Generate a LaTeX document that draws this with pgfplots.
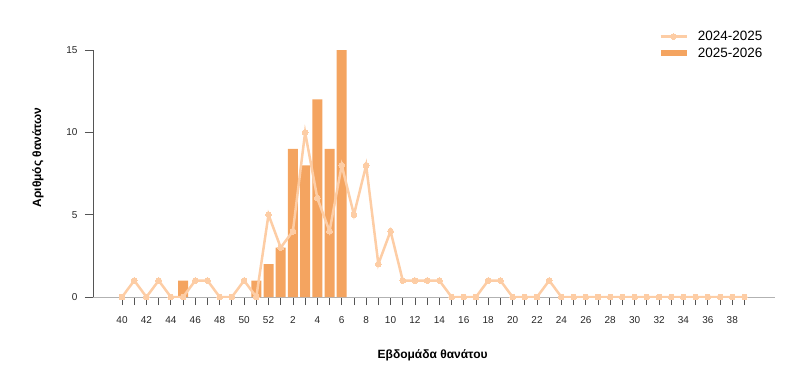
\documentclass[border=0pt]{standalone}
\usepackage{fontspec}
\setmainfont{Liberation Sans}
\usepackage{pgfplots}
\pgfplotsset{compat=1.18}
\definecolor{linec}{HTML}{FDCDA5}
\definecolor{barc}{HTML}{F4A460}
\definecolor{axc}{HTML}{555555}
\pgfplotsset{
  barleg/.style={legend image code/.code={\fill[barc] (0pt,-3pt) rectangle (26pt,3pt);}},
  lineleg/.style={legend image code/.code={\draw[mark repeat=2, mark phase=2, ##1] plot coordinates {(0pt,0pt) (13pt,0pt) (26pt,0pt)};}},
}
\begin{document}
\begin{tikzpicture}
\path[use as bounding box] (0,0) rectangle (800pt,389pt);
\begin{axis}[
  at={(93pt,92pt)}, anchor=south west,
  scale only axis, width=682pt, height=247pt,
  xmin=-2.38, xmax=53.5, ymin=0, ymax=15,
  axis x line=bottom, axis y line=left,
  x axis line style={-, draw=black!30, line width=0.8pt},
  y axis line style={-, draw=axc, line width=0.8pt},
  tick align=outside,
  xtick={0,2,...,50},
  xticklabels={40,42,44,46,48,50,52,2,4,6,8,10,12,14,16,18,20,22,24,26,28,30,32,34,36,38},
  minor xtick={1,3,...,51},
  major tick length=8pt, minor tick length=8pt,
  every tick/.style={draw=axc, line width=0.8pt},
  ytick={0,5,10,15},
  tick label style={font=\fontsize{10}{12}\selectfont, text=black!85},
  /pgf/number format/assume math mode=true,
  xticklabel style={yshift=-8pt},
  yticklabel style={xshift=-4pt},
  xlabel={Εβδομάδα θανάτου},
  xlabel style={at={(axis description cs:0.498,-0.235)}, anchor=center, font=\bfseries\fontsize{12}{14}\selectfont},
  ylabel={Αριθμός θανάτων},
  ylabel style={at={(axis description cs:-0.0806,0.565)}, anchor=center, font=\bfseries\fontsize{12}{14}\selectfont},
  reverse legend,
  legend cell align=left,
  legend style={draw=none, fill=none, at={(axis description cs:0.83,1.085)}, anchor=north west,
    font=\fontsize{13.5}{16}\selectfont, inner sep=0pt, row sep=1.5pt,
    /tikz/every odd column/.append style={column sep=8pt}},
]
\addplot[ybar, bar width=10pt, bar shift=0pt, fill=barc, draw=none, barleg]
  coordinates {(5,1) (11,1) (12,2) (13,3) (14,9) (15,8) (16,12) (17,9) (18,15)};
\addlegendentry{2025-2026}
\addplot[color=linec, line width=2.5pt, mark=*, mark size=2.9pt,
  mark options={fill=linec, draw=linec, line width=0pt}, lineleg]
  coordinates {
  (0,0) (1,1) (2,0) (3,1) (4,0) (5,0) (6,1) (7,1) (8,0) (9,0) (10,1) (11,0) (12,5)
  (13,3) (14,4) (15,10) (16,6) (17,4) (18,8) (19,5) (20,8) (21,2) (22,4) (23,1) (24,1)
  (25,1) (26,1) (27,0) (28,0) (29,0) (30,1) (31,1) (32,0) (33,0) (34,0) (35,1) (36,0)
  (37,0) (38,0) (39,0) (40,0) (41,0) (42,0) (43,0) (44,0) (45,0) (46,0) (47,0) (48,0)
  (49,0) (50,0) (51,0)};
\addlegendentry{2024-2025}
\end{axis}
\end{tikzpicture}
\end{document}
